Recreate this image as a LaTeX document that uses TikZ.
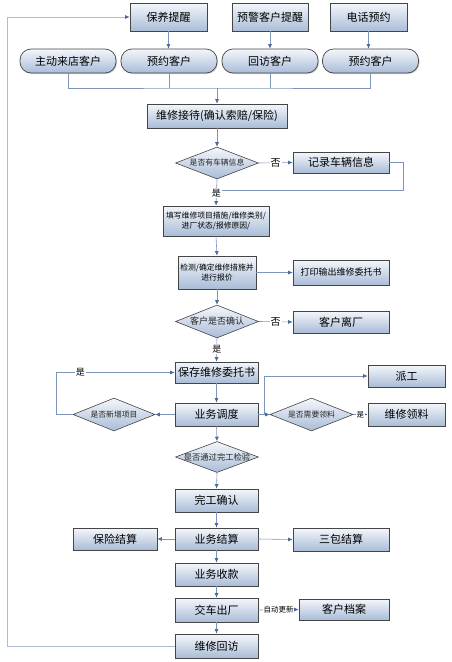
\documentclass[tikz,border=0pt]{standalone}
\usepackage{fontspec}
\setmainfont{Noto Sans CJK SC}
\usetikzlibrary{arrows.meta,shapes.geometric,shadows}

\definecolor{boxtop}{HTML}{F4F7FB}
\definecolor{boxbot}{HTML}{A9BCD7}
\definecolor{boxline}{HTML}{454545}
\definecolor{lineblue}{HTML}{7D95B8}
\definecolor{tipblue}{HTML}{4A6A9C}
\definecolor{loopline}{HTML}{A9BCD2}

\newcommand\boxfnt{\fontsize{11}{13}\selectfont}
\newcommand\diafnt{\fontsize{7.8}{10}\selectfont}
\newcommand\lblfnt{\fontsize{9}{10}\selectfont}

\begin{document}
\begin{tikzpicture}[x=1pt,y=-1pt,
  >={Latex[length=4.5pt,width=4pt]},
  every path/.style={line width=0.6pt},
  proc/.style={rectangle,draw=boxline,line width=0.7pt,top color=boxtop,bottom color=boxbot,
    inner sep=0pt,align=center,font=\boxfnt,
    drop shadow={shadow xshift=1pt,shadow yshift=-1pt,opacity=.3,fill=black!60}},
  pill/.style={proc,rounded corners=11pt,minimum width=96pt,minimum height=24pt},
  dia/.style={diamond,draw=boxline,line width=0.6pt,top color=boxtop,bottom color=boxbot,
    inner sep=0pt,minimum width=83pt,minimum height=32pt,
    label={[font=\diafnt,text=black!85]center:#1}},
  conn/.style={draw=lineblue,-{Latex[length=4.5pt,width=4pt,color=tipblue]}},
  plain/.style={draw=lineblue},
  tag/.style={fill=white,inner sep=1pt,font=\lblfnt}]

  \useasboundingbox (0,0) rectangle (451,662);

  % reminders on top
  \node[proc,minimum width=77pt,minimum height=28pt] (byTx) at (168.5,17) {保养提醒};
  \node[proc,minimum width=76pt,minimum height=28pt] (yjTx) at (270,17) {预警客户提醒};
  \node[proc,minimum width=77pt,minimum height=28pt] (dhYy) at (368.5,17) {电话预约};

  % customer sources
  \node[pill] (kh1) at (68,61) {主动来店客户};
  \node[pill] (kh2) at (169,61) {预约客户};
  \node[pill] (kh3) at (270,61) {回访客户};
  \node[pill] (kh4) at (370.5,61) {预约客户};

  \draw[conn] (byTx.south) -- (byTx.south |- kh2.north);
  \draw[conn] (yjTx.south) -- (yjTx.south |- kh3.north);
  \draw[conn] (dhYy.south) -- (dhYy.south |- kh4.north);

  \coordinate (merge) at (217,88);
  \draw[plain] (kh1.south) |- (merge) -| (kh4.south);
  \draw[plain] (kh2.south) -- (kh2.south |- merge);
  \draw[plain] (kh3.south) -- (kh3.south |- merge);

  % reception
  \node[proc,minimum width=140pt,minimum height=24pt] (jieDai) at (217,116) {维修接待(确认索赔/保险)};
  \draw[conn] (merge) -- (jieDai.north);

  \node[dia={是否有车辆信息}] (dCar) at (217,163) {};
  \node[proc,minimum width=96pt,minimum height=21pt] (jiLu) at (341,162.5) {记录车辆信息};
  \draw[conn] (jieDai.south) -- (dCar.north);
  \draw[conn] (dCar.east) -- node[tag,font=\fontsize{10}{11}\selectfont] {否} (jiLu.west);

  \node[proc,minimum width=106pt,minimum height=30pt,font=\diafnt] (tianXie) at (216,221)
    {填写维修项目措施/维修类别/\\进厂状态/报修原因/};
  \coordinate (back) at (217,190);
  \draw[plain] (jiLu.east) -- ++(14,0) |- (back);
  \draw[conn] (dCar.south) -- node[tag,pos=0.52] {是} (tianXie.north);

  \node[proc,minimum width=78pt,minimum height=33pt,font=\diafnt] (jianCe) at (217,272.5)
    {检测/确定维修措施并\\进行报价};
  \node[proc,minimum width=96pt,minimum height=25pt,font=\fontsize{9}{10}\selectfont] (daYin) at (341,272.5) {打印输出维修委托书};
  \draw[conn] (tianXie.south) -- (jianCe.north);
  \draw[conn] (jianCe.east) -- (daYin.west);

  \node[dia={\fontsize{9}{10}\selectfont 客户是否确认},minimum height=33pt] (dOk) at (217,321.5) {};
  \node[proc,minimum width=96pt,minimum height=22pt] (liChang) at (341,322) {客户离厂};
  \draw[conn] (jianCe.south) -- (dOk.north);
  \draw[conn] (dOk.east) -- node[tag,font=\fontsize{10}{11}\selectfont] {否} (liChang.west);

  % dispatching
  \node[proc,minimum width=83pt,minimum height=21pt] (baoCun) at (216.5,372.5) {保存维修委托书};
  \draw[conn] (dOk.south) -- node[tag,pos=0.45] {是} (baoCun.north);

  \node[proc,minimum width=83pt,minimum height=23pt] (diaoDu) at (216.5,414.5) {业务调度};
  \node[dia={是否新增项目},minimum width=82pt,minimum height=33pt] (dNew) at (114,414.5) {};
  \node[dia={是否需要领料},minimum height=33pt] (dPart) at (311.5,414.5) {};
  \node[proc,minimum width=77pt,minimum height=22pt] (paiGong) at (406.5,376) {派工};
  \node[proc,minimum width=77pt,minimum height=23pt] (lingLiao) at (406.5,414.5) {维修领料};

  \draw[conn] (baoCun.south) -- (diaoDu.north);
  \draw[conn] (diaoDu.west) -- (dNew.east);
  \draw[conn] (dNew.west) -- ++(-16,0) |- node[tag,pos=0.6] {是} (baoCun.west);
  \draw[conn] (diaoDu.east) -- (dPart.west);
  \draw[conn] (diaoDu.east) ++(6,0) |- (paiGong.west);
  \draw[conn] (dPart.east) -- node[tag,font=\fontsize{7.5}{8}\selectfont,inner sep=0.3pt] {是} (lingLiao.west);

  \node[dia={\fontsize{8.3}{10}\selectfont 是否通过完工检验},minimum height=31pt] (dDone) at (217,457) {};
  \draw[conn] (diaoDu.south) -- (dDone.north);

  % settlement and delivery
  \node[proc,minimum width=83pt,minimum height=23pt] (wanGong) at (216.5,500.5) {完工确认};
  \node[proc,minimum width=83pt,minimum height=22pt] (jieSuan) at (216.5,539) {业务结算};
  \node[proc,minimum width=84pt,minimum height=22pt] (baoXian) at (115,539) {保险结算};
  \node[proc,minimum width=96pt,minimum height=23pt] (sanBao) at (341,539.5) {三包结算};
  \node[proc,minimum width=83pt,minimum height=23pt] (shouKuan) at (216.5,574.5) {业务收款};
  \node[proc,minimum width=83pt,minimum height=24pt] (jiaoChe) at (216.5,610) {交车出厂};
  \node[proc,minimum width=90pt,minimum height=21pt] (dangAn) at (344,609.5) {客户档案};
  \node[proc,minimum width=83pt,minimum height=24pt] (huiFang) at (216.5,646) {维修回访};

  \draw[conn] (dDone.south) -- (wanGong.north);
  \draw[conn] (wanGong.south) -- (jieSuan.north);
  \draw[conn] (jieSuan.west) -- (baoXian.east);
  \draw[conn] (jieSuan.east) -- (sanBao.west);
  \draw[conn] (jieSuan.south) -- (shouKuan.north);
  \draw[conn] (shouKuan.south) -- (jiaoChe.north);
  \draw[conn] (jiaoChe.east) -- node[tag,font=\fontsize{7.5}{8}\selectfont,inner sep=0.3pt] {自动更新} (dangAn.west);
  \draw[conn] (jiaoChe.south) -- (huiFang.north);

  % back to the start
  \draw[conn,draw=loopline] (huiFang.west) -- ++(-167,0) |- (byTx.west);
\end{tikzpicture}
\end{document}
